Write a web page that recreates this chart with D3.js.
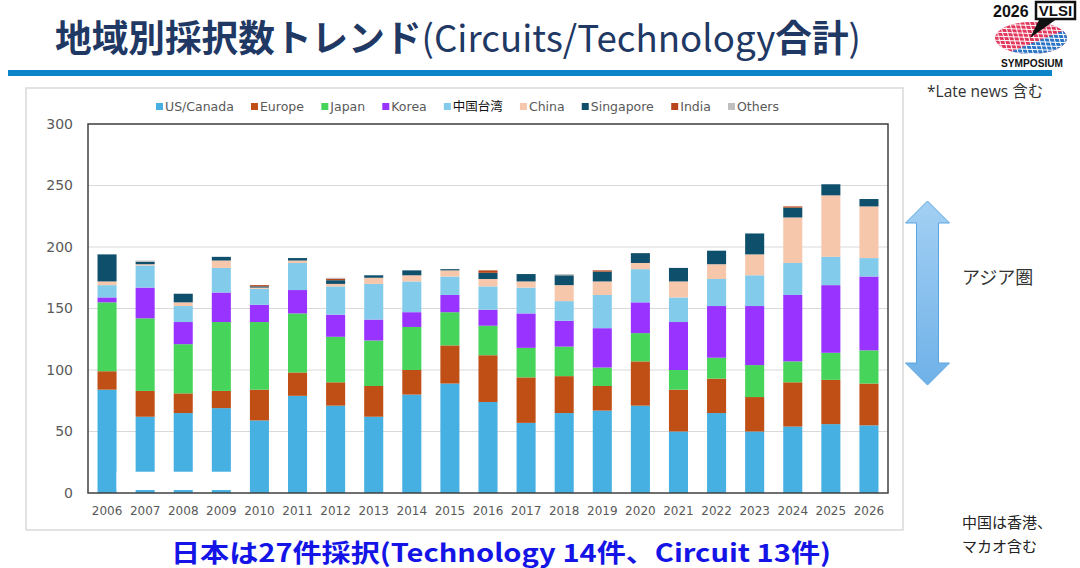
<!DOCTYPE html>
<html>
<head>
<meta charset="utf-8">
<script src="https://cdn.jsdelivr.net/npm/d3@7"></script>
<style>
  body { margin: 0; background: #fff; }
  svg { display: block; }
  .axis-y text { font-family: "DejaVu Sans", sans-serif; font-size: 14px; fill: #595959; }
  .axis-x text { font-family: "DejaVu Sans", sans-serif; font-size: 12px; fill: #595959; }
  .legend-text { font-family: "DejaVu Sans", "Noto Sans CJK JP", sans-serif; font-size: 12.5px; fill: #595959; }
</style>
</head>
<body>
<script>
// values
var years = ["2006","2007","2008","2009","2010","2011","2012","2013","2014","2015","2016",
             "2017","2018","2019","2020","2021","2022","2023","2024","2025","2026"];
var usCanada  = [84,62,65,69,59,79,71,62,80,89,74,57,65,67,71,50,65,50,54,56,55];
var europe    = [15,21,16,14,25,19,19,25,20,31,38,37,30,20,36,34,28,28,36,36,34];
var japan     = [56,59,40,56,55,48,37,37,35,27,24,24,24,15,23,16,17,26,17,22,27];
var korea     = [4,25,18,24,14,19,18,17,12,14,13,28,21,32,25,39,42,48,54,55,60];
var taiwan    = [10,18,13,20,13,22,23,29,25,15,19,21,16,27,27,20,22,25,26,23,15];
var china     = [3,1,3,6,1,2,2,5,5,5,6,5,13,11,5,13,12,17,37,50,42];
var singapore = [22,2,7,3,1,2,3,2,4,1,5,6,8,8,8,11,11,17,8,9,6];
var india     = [0,0,0,0,1,0,1,0,0,0,2,0,0,1,0,0,0,0,1,0,0];
var others    = [0,1,0,0,0,0,1,0,0,0,0,0,1,0,0,0,0,0,0,0,0];
var seriesNames = ["US/Canada","Europe","Japan","Korea","中国台湾","China","Singapore","India","Others"];
var yTicks = [0,50,100,150,200,250,300];

var colors = ["#45b0e1","#c04f15","#47d45a","#9933ff","#83cbeb","#f7c7ac","#0e4f6b","#b8461a","#bfbfbf"];
var seriesValues = [usCanada, europe, japan, korea, taiwan, china, singapore, india, others];

var table = years.map(function(y, i) {
    var row = {year: y};
    seriesNames.forEach(function(s, k) { row[s] = seriesValues[k][i]; });
    return row;
});

var W = 1080, H = 568;
var plot = {left: 88, right: 888, top: 124, bottom: 493};

var svg = d3.select("body").append("svg")
    .attr("width", W)
    .attr("height", H);

var defs = svg.append("defs");

// ---- header ----
var title = svg.append("text")
    .attr("x", 55)
    .attr("y", 52)
    .attr("textLength", 806)
    .attr("lengthAdjust", "spacingAndGlyphs")
    .style("font-family", "'Noto Sans CJK JP', sans-serif")
    .style("font-size", "37px")
    .style("fill", "#1f3864");
title.append("tspan").style("font-weight", "bold").text("地域別採択数トレンド");
title.append("tspan").style("font-weight", "normal").text("(Circuits/Technology");
title.append("tspan").style("font-weight", "bold").text("合計");
title.append("tspan").style("font-weight", "normal").text(")");

svg.append("rect")
    .attr("x", 8).attr("y", 70)
    .attr("width", 1044).attr("height", 6)
    .attr("fill", "#0b84c9");

svg.append("text")
    .attr("x", 927).attr("y", 97)
    .style("font-family", "'Open Sans', 'Noto Sans CJK JP', sans-serif")
    .style("font-size", "15.5px")
    .style("fill", "#333")
    .text("*Late news 含む");

// ---- logo ----
var logo = svg.append("g");
logo.append("text")
    .attr("x", 993).attr("y", 17)
    .style("font-family", "'Liberation Sans Narrow', 'Liberation Sans', sans-serif")
    .style("font-weight", "bold")
    .style("font-size", "16px")
    .style("fill", "#111")
    .text("2026");
defs.append("clipPath").attr("id", "globeClip")
    .append("ellipse").attr("cx", 1031).attr("cy", 38).attr("rx", 36).attr("ry", 16);
var globe = logo.append("g").attr("clip-path", "url(#globeClip)");
globe.append("rect").attr("x", 990).attr("y", 20).attr("width", 85).attr("height", 36).attr("fill", "#e2375c");
globe.append("path").attr("d", "M1000,56 L1075,26 L1075,56 Z").attr("fill", "#2b74c6");
d3.range(994, 1072, 5).forEach(function(gx) {
    globe.append("line").attr("x1", gx).attr("x2", gx + 10).attr("y1", 20).attr("y2", 56)
        .attr("stroke", "#fff").attr("stroke-width", 1);
});
d3.range(24, 56, 4).forEach(function(gy) {
    globe.append("line").attr("x1", 990).attr("x2", 1075).attr("y1", gy).attr("y2", gy + 3)
        .attr("stroke", "#fff").attr("stroke-width", 1);
});
logo.append("path").attr("d", "M1040,18 L1058,18 L1030,38 Z").attr("fill", "#111");
logo.append("rect").attr("x", 1036).attr("y", 2).attr("width", 39).attr("height", 17)
    .attr("fill", "#fff").attr("stroke", "#111").attr("stroke-width", 2.5);
logo.append("text")
    .attr("x", 1055.5).attr("y", 16).attr("text-anchor", "middle")
    .style("font-family", "'Liberation Sans Narrow', 'Liberation Sans', sans-serif")
    .style("font-weight", "bold").style("font-size", "15px").style("fill", "#111")
    .text("VLSI");
logo.append("text")
    .attr("x", 1032).attr("y", 67).attr("text-anchor", "middle")
    .attr("textLength", 62)
    .attr("lengthAdjust", "spacingAndGlyphs")
    .style("font-family", "'Liberation Sans Narrow', 'Liberation Sans', sans-serif")
    .style("font-weight", "bold").style("font-size", "11px").style("fill", "#111")
    .text("SYMPOSIUM");

// ---- chart frame ----
svg.append("rect")
    .attr("x", 26).attr("y", 88)
    .attr("width", 877).attr("height", 442)
    .attr("fill", "#fff")
    .attr("stroke", "#d9d9d9")
    .attr("stroke-width", 1.5);

var x = d3.scaleBand()
    .domain(years)
    .range([plot.left, plot.right])
    .paddingInner(0.5)
    .paddingOuter(0.25);

var y = d3.scaleLinear()
    .domain([0, 300])
    .range([plot.bottom, plot.top]);

// gridlines
svg.append("g")
    .selectAll("line")
    .data(yTicks.slice(1))
    .enter()
    .append("line")
    .attr("x1", plot.left).attr("x2", plot.right)
    .attr("y1", function(d) { return y(d); })
    .attr("y2", function(d) { return y(d); })
    .attr("stroke", "#d9d9d9")
    .attr("stroke-width", 1);

var stack = d3.stack().keys(seriesNames);
var layers = stack(table);

svg.append("g")
    .selectAll("g")
    .data(layers)
    .enter()
    .append("g")
    .attr("fill", function(d, i) { return colors[i]; })
    .selectAll("rect")
    .data(function(d) { return d; })
    .enter()
    .append("rect")
    .attr("x", function(d) { return x(d.data.year); })
    .attr("width", x.bandwidth())
    .attr("y", function(d) { return y(d[1]); })
    .attr("height", function(d) { return y(d[0]) - y(d[1]); });

// white patch that cuts the 2007-2009 bars in the source image
svg.append("rect")
    .attr("x", x("2006") + x.bandwidth())
    .attr("width", x("2009") + x.bandwidth() + 1 - (x("2006") + x.bandwidth()))
    .attr("y", y(17.3))
    .attr("height", y(2.4) - y(17.3))
    .attr("fill", "#fff");

// plot border
svg.append("rect")
    .attr("x", plot.left).attr("y", plot.top)
    .attr("width", plot.right - plot.left)
    .attr("height", plot.bottom - plot.top)
    .attr("fill", "none")
    .attr("stroke", "#404040")
    .attr("stroke-width", 1.5);

svg.append("g")
    .attr("class", "axis-y")
    .attr("transform", "translate(" + plot.left + ",0)")
    .call(d3.axisLeft(y).tickValues(yTicks).tickSize(0).tickPadding(15))
    .call(function(g) { g.select(".domain").remove(); });

svg.append("g")
    .attr("class", "axis-x")
    .attr("transform", "translate(0," + plot.bottom + ")")
    .call(d3.axisBottom(x).tickSize(0).tickPadding(13))
    .call(function(g) { g.select(".domain").remove(); });

// legend
var legend = svg.append("g").attr("transform", "translate(0,107)");
var items = legend.selectAll("g")
    .data(seriesNames)
    .enter()
    .append("g");
items.append("rect")
    .attr("width", 7).attr("height", 7)
    .attr("y", -4)
    .attr("fill", function(d, i) { return colors[i]; });
items.append("text")
    .attr("class", "legend-text")
    .attr("x", 9)
    .attr("dy", "0.35em")
    .style("fill", function(d) { return d === "中国台湾" ? "#111" : null; })
    .text(function(d) { return d; });
var widths = [];
items.each(function() { widths.push(this.getBBox().width); });
var legendStart = 156, legendEnd = 779;
var gap = (legendEnd - legendStart - d3.sum(widths)) / (widths.length - 1);
var pos = legendStart;
items.attr("transform", function(d, i) {
    var t = "translate(" + pos + ",0)";
    pos += widths[i] + gap;
    return t;
});

// asia arrow
var grad = defs.append("linearGradient").attr("id", "arrowGrad")
    .attr("x1", 0).attr("y1", 0).attr("x2", 0).attr("y2", 1);
grad.append("stop").attr("offset", "0%").attr("stop-color", "#a3d0f3");
grad.append("stop").attr("offset", "100%").attr("stop-color", "#6fb1e8");
var ax = 927.5, aTop = 201, aBot = 385, headH = 22, headW = 22, shaftW = 11;
svg.append("path")
    .attr("d", [
        "M", ax, aTop,
        "L", ax + headW, aTop + headH,
        "L", ax + shaftW, aTop + headH,
        "L", ax + shaftW, aBot - headH,
        "L", ax + headW, aBot - headH,
        "L", ax, aBot,
        "L", ax - headW, aBot - headH,
        "L", ax - shaftW, aBot - headH,
        "L", ax - shaftW, aTop + headH,
        "L", ax - headW, aTop + headH, "Z"].join(" "))
    .attr("fill", "url(#arrowGrad)")
    .attr("stroke", "#5aa5e0")
    .attr("stroke-width", 1);

svg.append("text")
    .attr("x", 962).attr("y", 284)
    .style("font-family", "'Noto Sans CJK JP', sans-serif")
    .style("font-size", "18px")
    .style("fill", "#333")
    .text("アジア圏");

// notes
svg.append("text")
    .attr("x", 962).attr("y", 528)
    .style("font-family", "'Noto Sans CJK JP', sans-serif")
    .style("font-size", "15px")
    .style("fill", "#222")
    .text("中国は香港、");
svg.append("text")
    .attr("x", 962).attr("y", 552)
    .style("font-family", "'Noto Sans CJK JP', sans-serif")
    .style("font-size", "15px")
    .style("fill", "#222")
    .text("マカオ含む");

svg.append("text")
    .attr("x", 171).attr("y", 562)
    .attr("textLength", 660)
    .attr("lengthAdjust", "spacingAndGlyphs")
    .style("font-family", "'Noto Sans CJK JP', sans-serif")
    .style("font-weight", "bold")
    .style("font-size", "25px")
    .style("fill", "#1414e6")
    .text("日本は27件採択(Technology 14件、Circuit 13件)");
</script>
</body>
</html>
